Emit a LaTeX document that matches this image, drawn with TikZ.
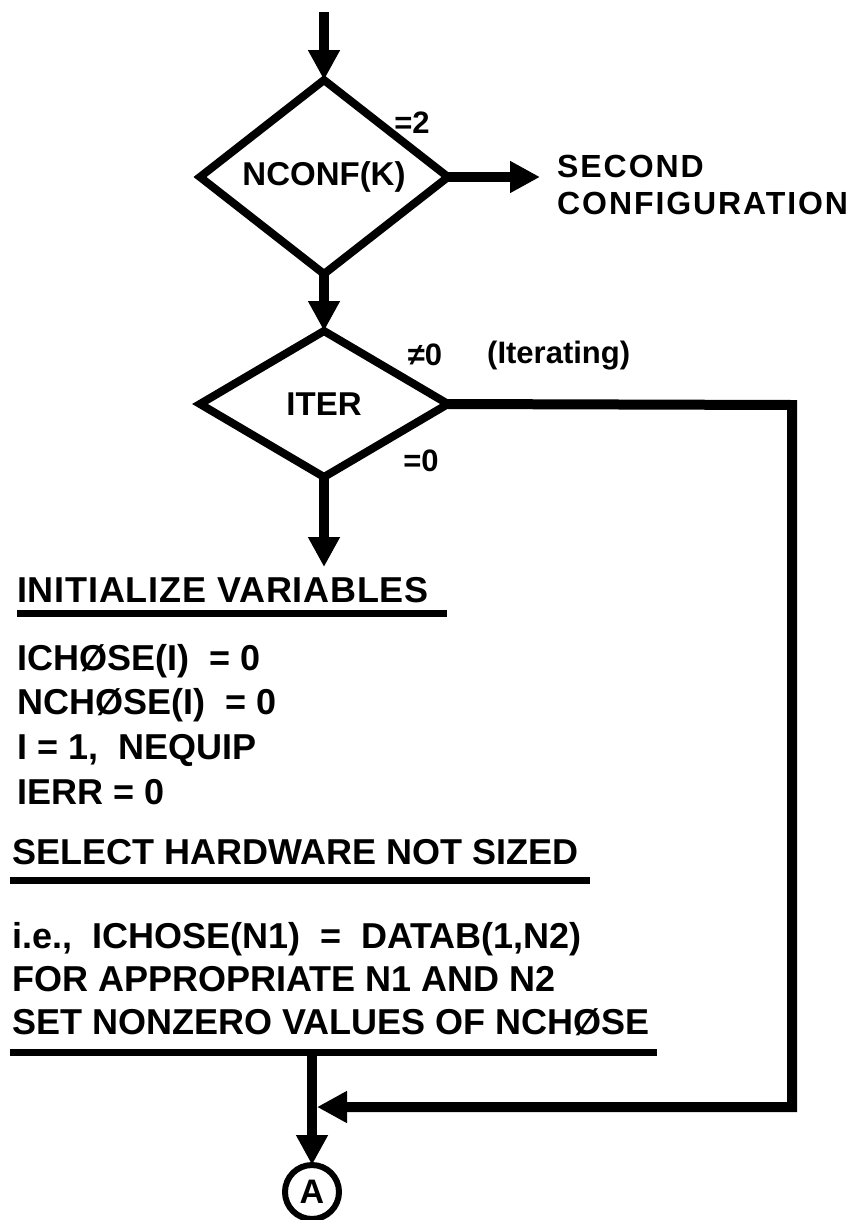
\documentclass[tikz,border=0pt]{standalone}
\usepackage{fontspec}
\setmainfont{Liberation Sans}
\usetikzlibrary{shapes.geometric,arrows.meta}
\begin{document}
\begin{tikzpicture}[x=1pt,y=-1pt,
  conn/.style={line width=10pt,-{Triangle[length=30pt,width=30pt]}},
  decision/.style={diamond,draw,line width=8pt,minimum width=248pt,minimum height=146pt,
    inner sep=0pt,outer sep=0pt,font=\fontsize{33}{36}\selectfont\bfseries},
  txt/.style={anchor=base west,inner sep=0pt,font=\fontsize{36}{40}\selectfont\bfseries},
  lbl/.style={inner sep=0pt,font=\fontsize{31}{34}\selectfont\bfseries},
  uline/.style={line width=7pt},
  conn2/.style={draw,circle,line width=6pt,minimum size=54pt,inner sep=0pt,outer sep=0pt,
    font=\fontsize{34}{36}\selectfont\bfseries}
]
\useasboundingbox[fill=white] (0,0) rectangle (854,1220);

% decisions
\node[decision] (d1) at (324,177) {NCONF(K)};
\node[decision] (d2) at (324,404) {ITER};

% branch labels
\node[lbl] (l2) at (412,123) {=2};
\node[lbl] (lne) at (425,355) {≠0};
\node[lbl,anchor=west] (lit) at (487,356) {(Iterating)};
\node[lbl] (leq) at (421,461) {=0};

% second configuration
\node[anchor=north west,align=left,inner xsep=17pt,inner ysep=0pt,
  font=\fontsize{32}{37}\selectfont\bfseries\addfontfeatures{LetterSpace=6}] (sec) at (540,155)
  {SECOND\\CONFIGURATION};

% text block
\node[txt,font=\fontsize{36}{40}\selectfont\bfseries\addfontfeatures{LetterSpace=2.2}] (init) at (17,602) {INITIALIZE VARIABLES};
\node[txt] (t1) at (17,670) {ICHØSE(I) \ = 0};
\node[txt] (t2) at (17,714) {NCHØSE(I) \ = 0};
\node[txt] (t3) at (17,759) {I = 1, \ NEQUIP};
\node[txt] (t4) at (17,804) {IERR = 0};
\node[txt] (sel) at (12,864) {SELECT HARDWARE NOT SIZED};
\node[txt] (t5) at (12,948) {i.e., \ ICHOSE(N1) \ = \ DATAB(1,N2)};
\node[txt] (t6) at (12,991) {FOR APPROPRIATE N1 AND N2};
\node[txt] (t7) at (12,1034) {SET NONZERO VALUES OF NCHØSE};

% underlines
\coordinate (u1a) at (17,613);  \coordinate (u1b) at (447,613);
\coordinate (u2a) at (10,880);  \coordinate (u2b) at (590,880);
\coordinate (u3a) at (10,1052); \coordinate (u3b) at (657,1052);
\draw[uline] (u1a) -- (u1b);
\draw[uline] (u2a) -- (u2b);
\draw[uline] (u3a) -- (u3b);

% connector A
\node[conn2] (A) at (312,1192) {A};

% flow
\coordinate (start) at (324,12);
\coordinate (tipinit) at (324,567);
\coordinate (c1) at (792,405);
\coordinate (c2) at (792,1107);
\coordinate (merge) at (317,1107);
\coordinate (down) at (312,1052);

\draw[conn] (start) -- (d1.north);
\draw[conn] (d1.east) -- (d1.east -| sec.west);
\draw[conn] (d1.south) -- (d2.north);
\draw[conn] (d2.south) -- (tipinit);
\draw[conn,line join=miter] (d2.east) -- (c1) -- (c2) -- (merge);
\draw[conn] (down) -- (A.north);
\end{tikzpicture}
\end{document}
